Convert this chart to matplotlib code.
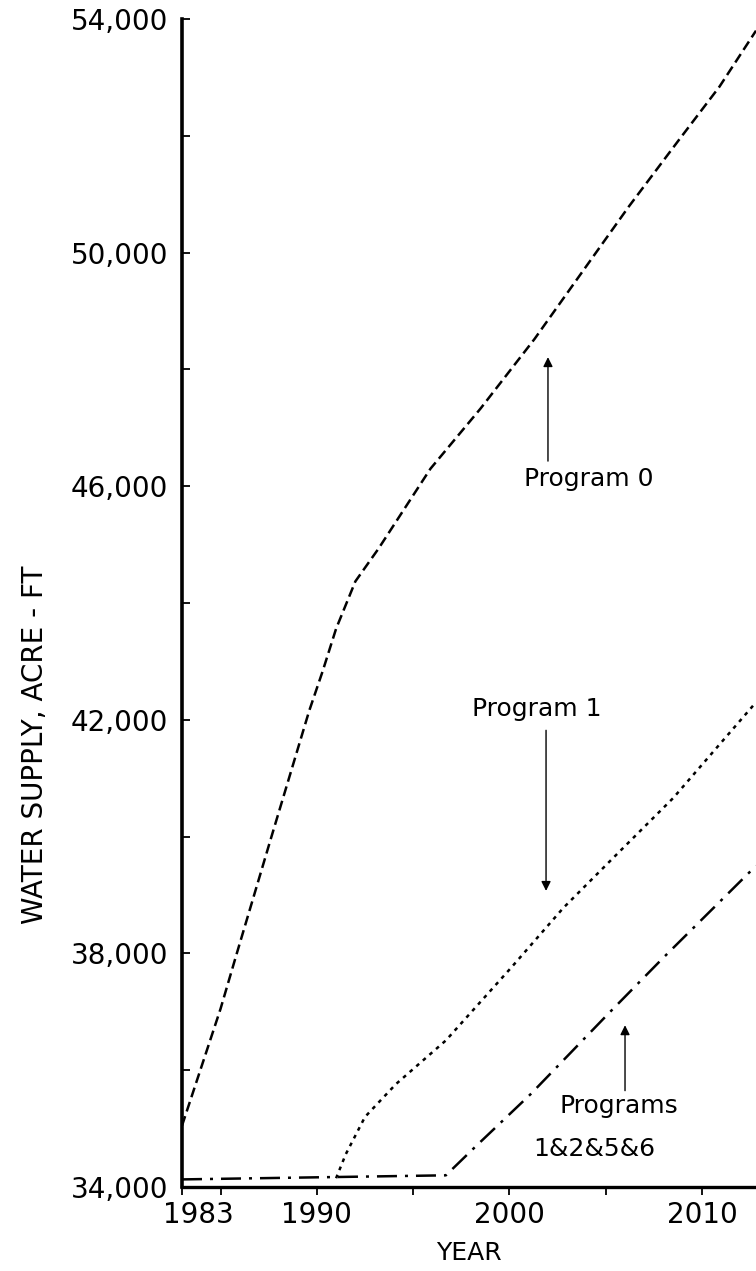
import matplotlib
matplotlib.use("Agg")
import matplotlib.pyplot as plt
import matplotlib.transforms as mtransforms
from matplotlib.ticker import FixedLocator, FuncFormatter

W_PX, H_PX = 756, 1271

# Program 0 (dashed)
p0_years = [1983.0, 1984.1, 1985.0, 1985.8, 1986.7, 1987.6, 1989.6, 1990.3,
            1991.0, 1992.0, 1993.2, 1995.9, 1998.5, 2001.3, 2003.5, 2006.2,
            2008.8, 2010.9, 2012.8]
p0_values = [35050, 36150, 37050, 37950, 38950, 39950, 42150, 42830,
             43560, 44370, 44930, 46300, 47330, 48520, 49540, 50790,
             51930, 52840, 53800]

# Program 1 (dotted)
p1_years = [1991.0, 1991.5, 1992.5, 1994.1, 1996.7, 2000.1, 2002.8, 2005.4,
            2008.5, 2012.8]
p1_values = [34150, 34560, 35200, 35760, 36510, 37760, 38780, 39640,
             40660, 42300]

# Programs 1&2&5&6 (dash-dot)
p1256_years = [1983.0, 1996.7, 1998.2, 2001.1, 2005.2, 2008.0, 2012.8]
p1256_values = [34130, 34200, 34680, 35590, 36990, 37930, 39500]

y_major = [34000, 38000, 42000, 46000, 50000, 54000]
y_minor = [36000, 40000, 44000, 48000, 52000]
x_major = [1983, 1990, 2000, 2010]
x_minor = [1985, 1995, 2005]

fig = plt.figure(figsize=(W_PX / 100, H_PX / 100), dpi=100)
left, top, bottom = 182, 19, 1187
ax = fig.add_axes([left / W_PX, 1 - bottom / H_PX, 1 - left / W_PX,
                   (bottom - top) / H_PX])

ax.plot(p0_years, p0_values, color="black", lw=1.8, linestyle=(0, (4, 2)))
ax.plot(p1_years, p1_values, color="black", lw=1.8, linestyle=(0, (1.5, 2)))
ax.plot(p1256_years, p1256_values, color="black", lw=1.8,
        linestyle=(0, (8, 3.2, 1.2, 3.2)))

ax.set_xlim(1983, 2012.8)
ax.set_ylim(34000, 54000)

for s in ("top", "right"):
    ax.spines[s].set_visible(False)
ax.spines["left"].set_linewidth(2.6)
ax.spines["bottom"].set_linewidth(2.4)

ax.yaxis.set_major_locator(FixedLocator(y_major))
ax.yaxis.set_minor_locator(FixedLocator(y_minor))
ax.yaxis.set_major_formatter(FuncFormatter(lambda v, p: f"{int(v):,}"))
ax.xaxis.set_major_locator(FixedLocator(x_major))
ax.xaxis.set_minor_locator(FixedLocator(x_minor))

ax.tick_params(axis="y", which="both", direction="in", length=6, width=1.3,
               pad=10, labelsize=20)
ax.tick_params(axis="x", which="both", direction="out", length=6, width=1.3,
               pad=4, labelsize=20)

# shift the 1983 label off the corner
offset = mtransforms.ScaledTranslation(16 / 100, 0, fig.dpi_scale_trans)
lab = ax.get_xticklabels()[0]
lab.set_transform(lab.get_transform() + offset)

ax.set_xlabel("YEAR", fontsize=18, labelpad=9)
fig.text(35 / W_PX, 1 - 745 / H_PX, "WATER SUPPLY, ACRE - FT", rotation=90,
         ha="center", va="center", fontsize=20)

arrow = dict(arrowstyle="-|>", color="black", lw=1.0, mutation_scale=14,
             shrinkA=0, shrinkB=0)

ax.text(2004.1, 46130, "Program 0", ha="center", va="center", fontsize=18)
ax.annotate("", xy=(2002.0, 48210), xytext=(2002.0, 46430), arrowprops=arrow)

ax.text(2001.4, 42180, "Program 1", ha="center", va="center", fontsize=18)
ax.annotate("", xy=(2001.9, 39070), xytext=(2001.9, 41820), arrowprops=arrow)

ax.text(2005.7, 35380, "Programs", ha="center", va="center", fontsize=18)
ax.text(2004.4, 34650, "1&2&5&6", ha="center", va="center", fontsize=18)
ax.annotate("", xy=(2006.0, 36770), xytext=(2006.0, 35650), arrowprops=arrow)

fig.savefig("out.png", dpi=100)
